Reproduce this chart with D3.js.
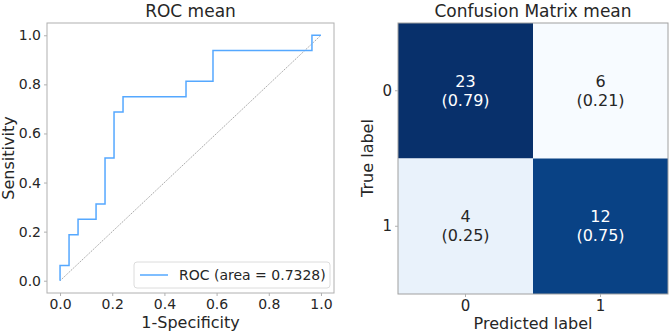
<!DOCTYPE html>
<html>
<head>
<meta charset="utf-8">
<script src="https://cdn.jsdelivr.net/npm/d3@7"></script>
<style>
  body { margin: 0; background: #fff; }
  svg text { font-family: "DejaVu Sans", sans-serif; fill: #262626; }
</style>
</head>
<body>
<div id="graphic"></div>
<script>
// ROC curve points (false positive rate, true positive rate)
var rocFpr = [0, 0, 0.0345, 0.0345, 0.069, 0.069, 0.138, 0.138, 0.1724, 0.1724, 0.2069, 0.2069, 0.2414, 0.2414, 0.4828, 0.4828, 0.5862, 0.5862, 0.9655, 0.9655, 1];
var rocTpr = [0, 0.0625, 0.0625, 0.1875, 0.1875, 0.25, 0.25, 0.3125, 0.3125, 0.5, 0.5, 0.6875, 0.6875, 0.75, 0.75, 0.8125, 0.8125, 0.9375, 0.9375, 1, 1];
var rocTicks = [0, 0.2, 0.4, 0.6, 0.8, 1.0];
var rocArea = '0.7328';

// Confusion matrix
var classLabels = ['0', '1'];
var cmCounts = [[23, 6], [4, 12]];
var cmRates = [[0.79, 0.21], [0.25, 0.75]];

var render = function () {
  var svg = d3.select('#graphic').append('svg')
    .attr('width', 669)
    .attr('height', 333);

  renderRoc(svg);
  renderMatrix(svg);
};

/*
 * Left panel: ROC curve
 */
var renderRoc = function (svg) {
  var box = { left: 47, right: 334, top: 23, bottom: 293 };
  var pad = 0.05;
  var xScale = d3.scaleLinear().domain([-pad, 1 + pad]).range([box.left, box.right]);
  var yScale = d3.scaleLinear().domain([-pad, 1 + pad]).range([box.bottom, box.top]);

  var g = svg.append('g');

  g.append('rect')
    .attr('x', box.left).attr('y', box.top)
    .attr('width', box.right - box.left).attr('height', box.bottom - box.top)
    .attr('fill', 'none').attr('stroke', '#b0b0b0').attr('stroke-width', 1);

  var xAxis = g.append('g')
    .attr('transform', 'translate(0,' + box.bottom + ')')
    .call(d3.axisBottom(xScale).tickValues(rocTicks).tickFormat(d3.format('.1f')).tickSize(3).tickPadding(3));
  var yAxis = g.append('g')
    .attr('transform', 'translate(' + box.left + ',0)')
    .call(d3.axisLeft(yScale).tickValues(rocTicks).tickFormat(d3.format('.1f')).tickSize(3).tickPadding(3));
  [xAxis, yAxis].forEach(function (a) {
    a.select('.domain').remove();
    a.selectAll('line').attr('stroke', '#b0b0b0');
    a.selectAll('text').style('font-size', '14px').attr('fill', '#262626');
  });

  // chance diagonal
  g.append('line')
    .attr('x1', xScale(0)).attr('y1', yScale(0))
    .attr('x2', xScale(1)).attr('y2', yScale(1))
    .attr('stroke', '#909090').attr('stroke-width', 0.8)
    .attr('stroke-dasharray', '1.5,1');

  var line = d3.line()
    .x(function (d) { return xScale(d[0]); })
    .y(function (d) { return yScale(d[1]); });

  g.append('path')
    .datum(d3.zip(rocFpr, rocTpr))
    .attr('d', line)
    .attr('fill', 'none')
    .attr('stroke', '#55a8ff')
    .attr('stroke-width', 1.5);

  // legend
  var lg = g.append('g').attr('transform', 'translate(134,262)');
  lg.append('rect')
    .attr('width', 196).attr('height', 26).attr('rx', 3)
    .attr('fill', '#fff').attr('stroke', '#dcdcdc');
  lg.append('line')
    .attr('x1', 6).attr('x2', 34).attr('y1', 13).attr('y2', 13)
    .attr('stroke', '#55a8ff').attr('stroke-width', 1.5);
  lg.append('text')
    .attr('x', 45).attr('y', 18)
    .style('font-size', '14px')
    .text('ROC (area = ' + rocArea + ')');

  g.append('text')
    .attr('x', (box.left + box.right) / 2).attr('y', 17)
    .attr('text-anchor', 'middle').style('font-size', '17px')
    .text('ROC mean');
  g.append('text')
    .attr('x', (box.left + box.right) / 2).attr('y', 328)
    .attr('text-anchor', 'middle').style('font-size', '16px')
    .text('1-Specificity');
  g.append('text')
    .attr('transform', 'translate(14,158) rotate(-90)')
    .attr('text-anchor', 'middle').style('font-size', '16px')
    .text('Sensitivity');
};

/*
 * Right panel: confusion matrix
 */
var renderMatrix = function (svg) {
  var box = { left: 398, right: 668, top: 23, bottom: 294 };
  var xBand = d3.scaleBand().domain(classLabels).range([box.left, box.right]);
  var yBand = d3.scaleBand().domain(classLabels).range([box.top, box.bottom]);

  var flat = d3.merge(cmRates);
  var color = d3.scaleSequential(d3.interpolateBlues)
    .domain([d3.min(flat), d3.max(flat)]);

  var g = svg.append('g');

  var cells = [];
  classLabels.forEach(function (t, i) {
    classLabels.forEach(function (p, j) {
      cells.push({ t: t, p: p, count: cmCounts[i][j], rate: cmRates[i][j] });
    });
  });

  var midRate = (d3.min(flat) + d3.max(flat)) / 2;

  var cell = g.selectAll('g.cell')
    .data(cells)
    .enter().append('g').attr('class', 'cell');

  cell.append('rect')
    .attr('x', function (d) { return xBand(d.p); })
    .attr('y', function (d) { return yBand(d.t); })
    .attr('width', xBand.bandwidth())
    .attr('height', yBand.bandwidth())
    .attr('fill', function (d) { return color(d.rate); });

  cell.append('text')
    .attr('x', function (d) { return xBand(d.p) + xBand.bandwidth() / 2; })
    .attr('y', function (d) { return yBand(d.t) + yBand.bandwidth() / 2 - 4; })
    .attr('text-anchor', 'middle').style('font-size', '16px')
    .style('fill', function (d) { return d.rate > midRate ? '#ffffff' : '#262626'; })
    .text(function (d) { return d.count; });
  cell.append('text')
    .attr('x', function (d) { return xBand(d.p) + xBand.bandwidth() / 2; })
    .attr('y', function (d) { return yBand(d.t) + yBand.bandwidth() / 2 + 15; })
    .attr('text-anchor', 'middle').style('font-size', '16px')
    .style('fill', function (d) { return d.rate > midRate ? '#ffffff' : '#262626'; })
    .text(function (d) { return '(' + d.rate.toFixed(2) + ')'; });

  g.append('rect')
    .attr('x', box.left).attr('y', box.top)
    .attr('width', box.right - box.left).attr('height', box.bottom - box.top)
    .attr('fill', 'none').attr('stroke', '#a0a0a0').attr('stroke-width', 1);

  var xAxis = g.append('g')
    .attr('transform', 'translate(0,' + box.bottom + ')')
    .call(d3.axisBottom(xBand).tickSize(3).tickPadding(3));
  var yAxis = g.append('g')
    .attr('transform', 'translate(' + box.left + ',0)')
    .call(d3.axisLeft(yBand).tickSize(3).tickPadding(3));
  [xAxis, yAxis].forEach(function (a) {
    a.select('.domain').remove();
    a.selectAll('line').attr('stroke', '#b0b0b0');
    a.selectAll('text').style('font-size', '15px').attr('fill', '#262626');
  });

  g.append('text')
    .attr('x', (box.left + box.right) / 2).attr('y', 17)
    .attr('text-anchor', 'middle').style('font-size', '17px')
    .text('Confusion Matrix mean');
  g.append('text')
    .attr('x', (box.left + box.right) / 2).attr('y', 329)
    .attr('text-anchor', 'middle').style('font-size', '16px')
    .text('Predicted label');
  g.append('text')
    .attr('transform', 'translate(373,158) rotate(-90)')
    .attr('text-anchor', 'middle').style('font-size', '16px')
    .text('True label');
};

window.onload = render;
</script>
</body>
</html>
